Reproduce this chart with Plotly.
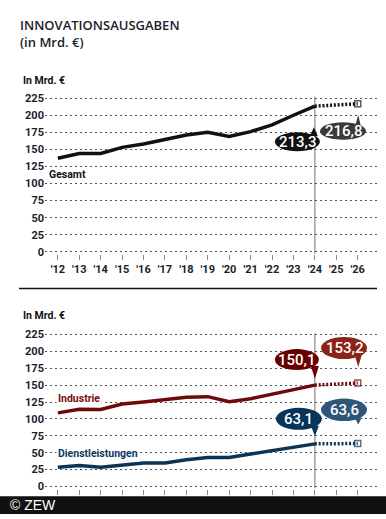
import plotly.graph_objects as go

years = [2012, 2013, 2014, 2015, 2016, 2017, 2018, 2019, 2020, 2021, 2022, 2023, 2024]
forecast_years = [2024, 2026]
tick_years = list(range(2012, 2027))
tick_labels = ["'" + str(y)[2:] for y in tick_years]

gesamt = [137, 144, 144, 153, 158, 164, 171, 175, 169, 176, 186, 200, 213.3]
gesamt_fc = [213.3, 216.8]
industrie = [109, 114.5, 114, 122, 125, 129, 132, 133, 125.5, 130, 137, 144, 150.1]
industrie_fc = [150.1, 153.2]
dienst = [28.5, 31, 28.5, 32, 34.7, 34.7, 39.7, 43, 43, 48, 53, 58, 63.1]
dienst_fc = [63.1, 63.6]
y_ticks = [0, 25, 50, 75, 100, 125, 150, 175, 200, 225]

C_GES = "#111111"
C_IND = "#700a0a"
C_DL = "#0b3556"

FONT = "Roboto, Liberation Sans, sans-serif"
TITLE_FONT = "Open Sans, DejaVu Sans, sans-serif"

fig = go.Figure()

def add_series(xa, ya, vals, fc, color):
    fig.add_trace(go.Scatter(x=years, y=vals, mode="lines", xaxis=xa, yaxis=ya,
                             line=dict(color=color, width=3.5), hoverinfo="skip"))
    fig.add_trace(go.Scatter(x=forecast_years, y=fc, mode="lines+markers", xaxis=xa, yaxis=ya,
                             line=dict(color=color, width=3.5, dash="2px,1.8px"),
                             marker=dict(symbol="square-open", size=[0, 6], color=color,
                                         line=dict(width=1.5, color=color)),
                             hoverinfo="skip"))

add_series("x", "y", gesamt, gesamt_fc, C_GES)
add_series("x2", "y2", industrie, industrie_fc, C_IND)
add_series("x2", "y2", dienst, dienst_fc, C_DL)

xcommon = dict(range=[2011.4, 2026.9], tickvals=tick_years, ticktext=tick_labels,
               showgrid=False, zeroline=False, showline=False, ticks="outside",
               ticklen=5, tickcolor="#888888", tickwidth=1,
               tickfont=dict(family=FONT, size=11, color="#1a1f2b", weight="bold"),
               domain=[45/386, 377/386], fixedrange=True)
ycommon = dict(range=[-3, 230], tickvals=y_ticks, showgrid=True, gridcolor="#555555",
               griddash="2px,3px", gridwidth=1, zeroline=False, showline=False,
               ticks="", tickfont=dict(family=FONT, size=11, color="#1a1f2b", weight="bold"),
               fixedrange=True)

fig.update_layout(
    width=386, height=519, margin=dict(l=0, r=0, t=0, b=0),
    paper_bgcolor="white", plot_bgcolor="white", showlegend=False,
    xaxis=dict(xcommon, anchor="y"),
    yaxis=dict(ycommon, domain=[0.5091, 0.8204], anchor="x"),
    xaxis2=dict(xcommon, anchor="y2"),
    yaxis2=dict(ycommon, domain=[0.0499, 0.3578], anchor="x2"),
)

shapes = []
# vertical marker lines at '24
for xr, yr in (("x", "y"), ("x2", "y2")):
    shapes.append(dict(type="line", xref=xr, yref=yr, x0=2024, x1=2024, y0=-3, y1=227,
                       line=dict(color="#707070", width=1), layer="below"))

def bubble(xr, yr, xa, ya, ex0, ex1, ey0, ey1, tail, color, text):
    shapes.append(dict(type="circle", xref=xr, yref=yr, xsizemode="pixel", ysizemode="pixel",
                       xanchor=xa, yanchor=ya, x0=ex0, x1=ex1, y0=ey0, y1=ey1,
                       fillcolor=color, line=dict(width=0), layer="above"))
    shapes.append(dict(type="path", xref=xr, yref=yr, xsizemode="pixel", ysizemode="pixel",
                       xanchor=xa, yanchor=ya, path=tail,
                       fillcolor=color, line=dict(width=0), layer="above"))
    fig.add_annotation(xref=xr, yref=yr, x=xa, y=ya, text=text, showarrow=False,
                       xshift=(ex0 + ex1) / 2, yshift=(ey0 + ey1) / 2,
                       font=dict(family=FONT, size=15, color="white", weight=500),
                       xanchor="center", yanchor="middle")

bubble("x", "y", 2024, gesamt_fc[0], -40, 5, -45, -26, "M -5,-30 L -1,-21 L 3,-30 Z", "#111111", "213,3")
bubble("x", "y", 2026, gesamt_fc[1], -37.7, 8.3, -36, -18.5, "M -3,-24 L 0.5,-11 L 3.5,-24 Z", "#3a3a3a", "216,8")
bubble("x2", "y2", 2024, industrie_fc[0], -40, 4, 15, 36, "M -4,19 L 0,6.4 L 4,19 Z", "#690000", "150,1")
bubble("x2", "y2", 2026, industrie_fc[1], -36.7, 9.3, 24, 46, "M -3,28 L 0.5,16 L 4,28 Z", "#8b2418", "153,2")
bubble("x2", "y2", 2024, dienst_fc[0], -39, 7, 14, 36, "M -4,18 L 0,7.8 L 4,18 Z", "#07345a", "63,1")
bubble("x2", "y2", 2026, dienst_fc[1], -36.7, 9.3, 22.5, 45, "M -3,26 L 0.5,19 L 4,26 Z", "#2d5679", "63,6")

# separator line
shapes.append(dict(type="line", xref="paper", yref="paper", x0=19/386, x1=377/386,
                   y0=1 - 290/519, y1=1 - 290/519, line=dict(color="#111111", width=1.5)))
# footer bar
shapes.append(dict(type="rect", xref="paper", yref="paper", x0=0, x1=1, y0=0, y1=18/519,
                   fillcolor="#111111", line=dict(width=0), layer="above"))

fig.update_layout(shapes=shapes)

def label(text, x, y, size, color, weight="bold", family=FONT):
    fig.add_annotation(xref="paper", yref="paper", x=x/386, y=1 - y/519, text=text,
                       showarrow=False, xanchor="left", yanchor="middle",
                       font=dict(family=family, size=size, color=color, weight=weight))

fig.add_annotation(xref="paper", yref="paper", x=18/386, y=1 - 11.5/519,
                   text="INNOVATIONSAUSGABEN<br>(in Mrd. €)", showarrow=False,
                   xanchor="left", yanchor="top", align="left",
                   font=dict(family=TITLE_FONT, size=13, color="#1c1c2c", weight=600))
label("In Mrd. €", 21, 79, 10.5, "#111111")
label("In Mrd. €", 21, 317, 10.5, "#111111")
label("Gesamt", 47, 174, 10.5, C_GES)
fig.add_annotation(xref="paper", yref="paper", x=56/386, y=1 - 402/519, text="Industrie",
                   showarrow=False, xanchor="left", yanchor="middle", bgcolor="white",
                   font=dict(family=FONT, size=10.5, color="#7a0c0c", weight="bold"))
fig.add_annotation(xref="paper", yref="paper", x=56/386, y=1 - 458/519, text="Dienstleistungen",
                   showarrow=False, xanchor="left", yanchor="middle", bgcolor="white",
                   font=dict(family=FONT, size=10.5, color="#0c3a5e", weight="bold"))
label("© ZEW", 8, 510, 14, "white", weight="normal", family="Liberation Sans, Arial, sans-serif")

fig.write_html("out.html", config={"displayModeBar": False},
               post_script="document.body.style.margin='0';document.body.style.overflow='hidden';")
